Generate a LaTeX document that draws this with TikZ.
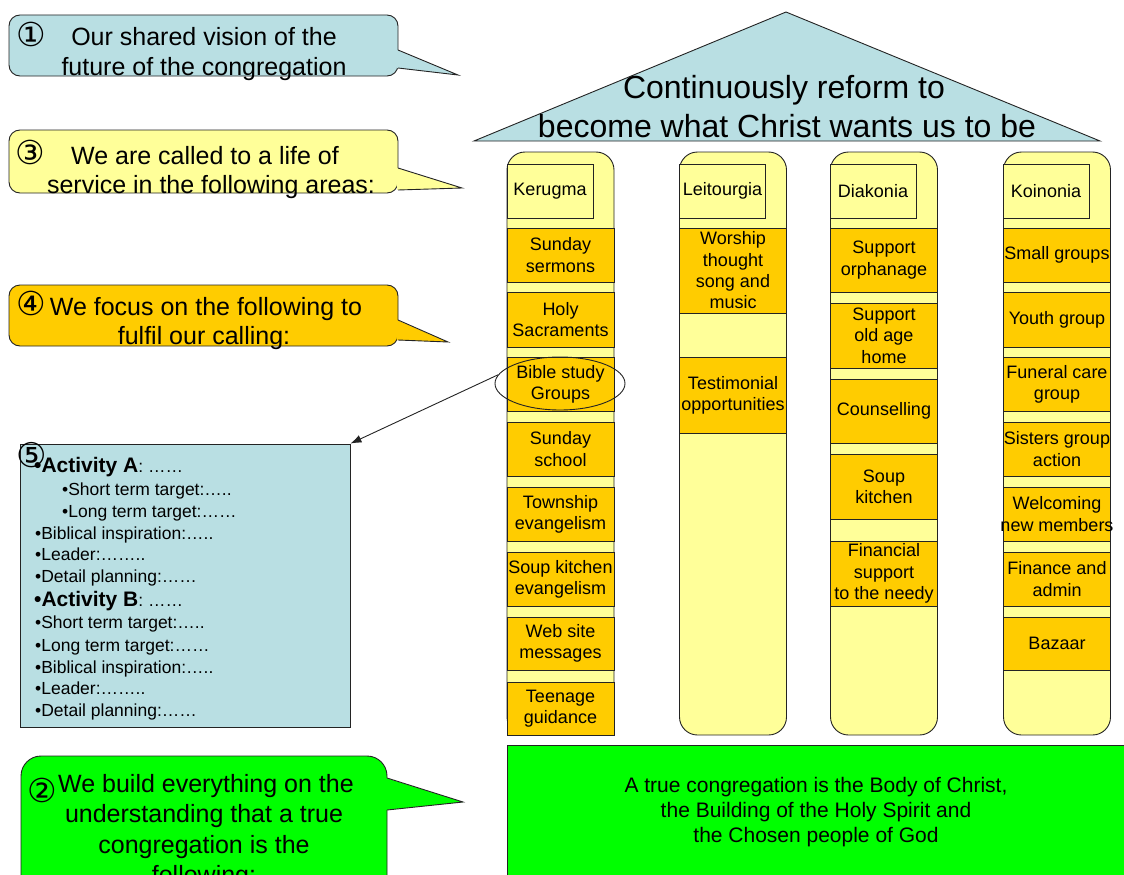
\documentclass[tikz,border=0pt]{standalone}
\usepackage{fontspec}
\setmainfont{Liberation Sans}
\newfontfamily\circfont{DejaVu Sans}
\usetikzlibrary{shapes.geometric,arrows.meta}

\definecolor{paleblue}{RGB}{185,223,227}
\definecolor{paleyellow}{RGB}{255,255,153}
\definecolor{gold}{RGB}{255,204,0}
\definecolor{brightgreen}{RGB}{0,255,0}
\definecolor{edge}{RGB}{35,35,35}

\begin{document}
\begin{tikzpicture}[x=1pt,y=-1pt,
  outline/.style={draw=edge,line width=0.9pt},
  bubbletext/.style={anchor=base,inner sep=0pt,font=\fontsize{25}{30}\selectfont},
  numtext/.style={inner sep=0pt,font=\circfont\fontsize{33}{33}\selectfont},
  pillar/.style={outline,fill=paleyellow,rounded corners=18pt,minimum width=107,minimum height=583,inner sep=0pt},
  header/.style={outline,fill=paleyellow,minimum width=86,minimum height=54,inner sep=0pt,font=\fontsize{18}{21}\selectfont},
  item/.style={outline,fill=gold,minimum width=107,inner sep=0pt,align=center,font=\fontsize{18}{21.3}\selectfont},
  plan/.style={anchor=base west,inner sep=0pt,font=\fontsize{17.5}{21}\selectfont},
  planhead/.style={anchor=base west,inner sep=0pt,font=\fontsize{17.5}{21}\selectfont}
]
\path[use as bounding box] (0,0) rectangle (1124,875);
\clip (0,0) rectangle (1124,875);

% ---- speech bubbles on the left ----
% 1: shared vision
\path[outline,fill=paleblue,rounded corners=11] (9,15) rectangle (398,76);
\fill[paleblue] (397,50) -- (458,75) -- (397,68) -- cycle;
\draw[edge,line width=0.9pt] (398,50) -- (458,75) -- (398,68);
\node[numtext] (n1) at (31,34) {①};
\node[bubbletext] (c1a) at (204,46) {Our shared vision of the};
\node[bubbletext] (c1b) at (204,75) {future of the congregation};

% 3: called to service
\path[outline,fill=paleyellow,rounded corners=11] (9,130) rectangle (398,193);
\fill[paleyellow] (397,168) -- (462,188) -- (397,190) -- cycle;
\draw[edge,line width=0.9pt] (398,168) -- (462,188) -- (398,190);
\node[numtext] (n3) at (30,152) {③};
\node[bubbletext] (c3a) at (205,164) {We are called to a life of};
\node[bubbletext] (c3b) at (211,193) {service in the following areas:};

% 4: focus
\path[outline,fill=gold,rounded corners=11] (9,285) rectangle (398,346);
\fill[gold] (397,320) -- (448,342) -- (397,340) -- cycle;
\draw[edge,line width=0.9pt] (398,320) -- (448,342) -- (398,340);
\node[numtext] (n4) at (31,303) {④};
\node[bubbletext] (c4a) at (206,315) {We focus on the following to};
\node[bubbletext] (c4b) at (204,344) {fulfil our calling:};

% 2: foundation
\path[outline,fill=brightgreen,rounded corners=20] (21,756) rectangle (387,900);
\fill[brightgreen] (386,778) -- (463,802) -- (386,810) -- cycle;
\draw[edge,line width=0.9pt] (387,778) -- (463,802) -- (387,810);
\node[numtext] (n2) at (42,790) {②};
\node[bubbletext] (c2a) at (206,792) {We build everything on the};
\node[bubbletext] (c2b) at (204,822) {understanding that a true};
\node[bubbletext] (c2c) at (204,853) {congregation is the};
\node[bubbletext] (c2d) at (204,883) {following:};

% ---- activity planning sheet ----
\node[outline,fill=paleblue,minimum width=330,minimum height=283,inner sep=0pt] (box5) at (185,585.5) {};
\node[planhead] (p1) at (34,472) {\fontsize{21}{21}\selectfont\bfseries •Activity A\fontsize{17.5}{21}\selectfont\mdseries: ……};
\node[numtext,font=\circfont\fontsize{34}{34}\selectfont] (n5) at (32,455) {⑤};
\node[plan] (p2) at (62,495) {•Short term target:…..};
\node[plan] (p3) at (62,517) {•Long term target:……};
\node[plan] (p4) at (35,539) {•Biblical inspiration:…..};
\node[plan] (p5) at (35,560) {•Leader:……..};
\node[plan] (p6) at (35,582) {•Detail planning:……};
\node[planhead] (p7) at (34,606) {\fontsize{21}{21}\selectfont\bfseries •Activity B\fontsize{17.5}{21}\selectfont\mdseries: ……};
\node[plan] (p8) at (35,628) {•Short term target:…..};
\node[plan] (p9) at (35,651) {•Long term target:……};
\node[plan] (p10) at (35,673) {•Biblical inspiration:…..};
\node[plan] (p11) at (35,694) {•Leader:……..};
\node[plan] (p12) at (35,716) {•Detail planning:……};

% ---- roof ----
\filldraw[fill=paleblue,draw=edge,line width=0.9pt] (474,141) -- (786,12) -- (1100,141) -- cycle;
\node[anchor=base,inner sep=0pt,font=\fontsize{32}{38}\selectfont] (roofa) at (784,98) {Continuously reform to};
\node[anchor=base,inner sep=0pt,font=\fontsize{32}{38}\selectfont] (roofb) at (787,137) {become what Christ wants us to be};

% ---- pillars ----
\node[pillar] (kerP) at (560.5,443.5) {};
\node[pillar] (leiP) at (733,443.5) {};
\node[pillar] (diaP) at (884,443.5) {};
\node[pillar] (koiP) at (1057,443.5) {};

\node[header] (kerH) at (550,191) {Kerugma};
\node[header] (leiH) at (722.5,191) {Leitourgia};
\node[header] (diaH) at (873,191) {Diakonia};
\node[header] (koiH) at (1046,191) {Koinonia};

% Kerugma
\node[item,minimum height=54] (k1) at (560.5,255) {Sunday\\sermons};
\node[item,minimum height=55] (k2) at (560.5,319.5) {Holy\\Sacraments};
\node[item,minimum height=54] (k3) at (560.5,384) {Bible study\\Groups};
\node[item,minimum height=54] (k4) at (560.5,449) {Sunday\\school};
\node[item,minimum height=54] (k5) at (560.5,514) {Township\\evangelism};
\node[item,minimum height=54] (k6) at (560.5,579) {Soup kitchen\\evangelism};
\node[item,minimum height=53] (k7) at (560.5,643.5) {Web site\\messages};
\node[item,minimum height=53] (k8) at (560.5,708.5) {Teenage\\guidance};

% Leitourgia
\node[item,minimum height=85] (l1) at (733,270.5) {Worship\\thought\\song and\\music};
\node[item,minimum height=76] (l2) at (733,395) {Testimonial\\opportunities};

% Diakonia
\node[item,minimum height=64] (d1) at (884,260) {Support\\orphanage};
\node[item,minimum height=65] (d2) at (884,335.5) {Support\\old age\\home};
\node[item,minimum height=64] (d3) at (884,411) {Counselling};
\node[item,minimum height=65] (d4) at (884,486.5) {Soup\\kitchen};
\node[item,minimum height=65] (d5) at (884,573.5) {Financial\\support\\to the needy};

% Koinonia
\node[item,minimum height=54] (o1) at (1057,255) {\makebox[0pt]{Small groups}};
\node[item,minimum height=55] (o2) at (1057,319.5) {Youth group};
\node[item,minimum height=54] (o3) at (1057,384) {Funeral care\\group};
\node[item,minimum height=54] (o4) at (1057,449) {\makebox[0pt]{Sisters group}\\action};
\node[item,minimum height=54] (o5) at (1057,514) {Welcoming\\\makebox[0pt]{new members}};
\node[item,minimum height=54] (o6) at (1057,579) {Finance and\\admin};
\node[item,minimum height=53] (o7) at (1057,643.5) {Bazaar};

% ---- foundation ----
\node[outline,fill=brightgreen,minimum width=618,minimum height=134,inner sep=0pt,align=center,
      font=\fontsize{21}{25}\selectfont] (found) at (816,812)
  {A true congregation is the Body of Christ,\\the Building of the Holy Spirit and\\the Chosen people of God};

% ---- highlight and pointer to the planning sheet ----
\node[draw=edge,line width=0.9pt,ellipse,minimum width=130,minimum height=53,inner sep=0pt] (bell) at (560,383.5) {};
\draw[edge,line width=0.9pt,-{Latex[length=11pt,width=8pt]}] (bell.172) -- (box5.north east);
\end{tikzpicture}
\end{document}
